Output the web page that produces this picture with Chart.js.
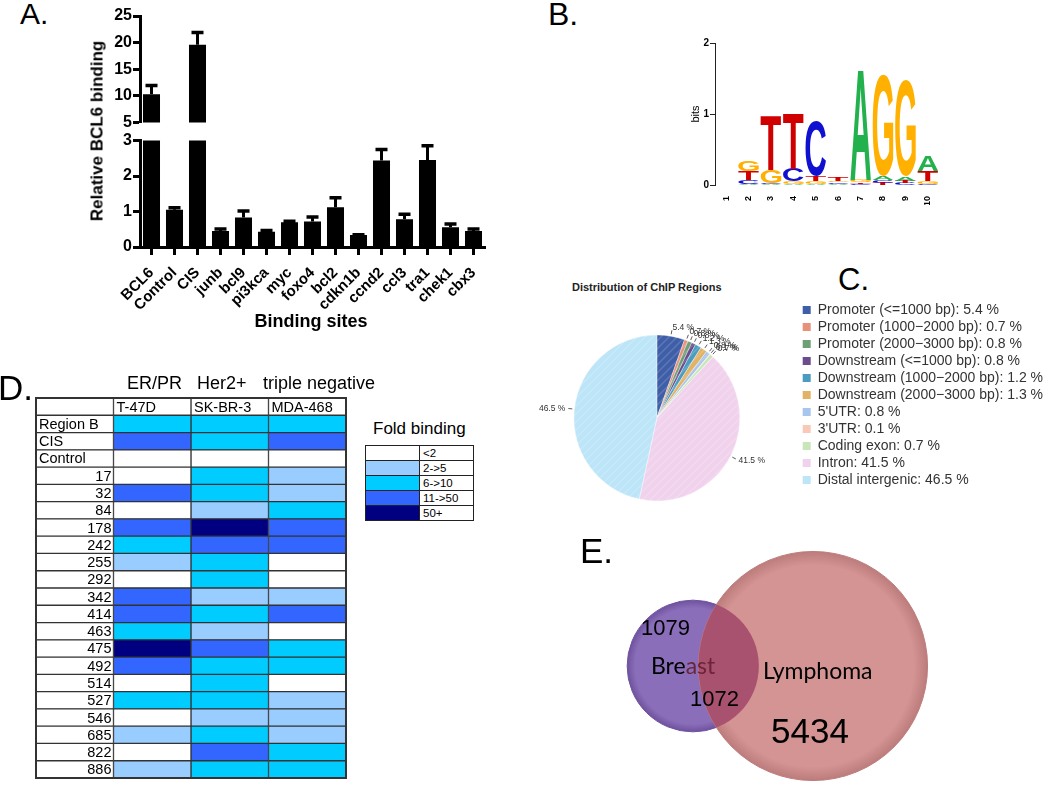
<!DOCTYPE html>
<html>
<head>
<meta charset="utf-8">
<title>BCL6 binding</title>
<script src="https://cdn.jsdelivr.net/npm/chart.js@4.4.1/dist/chart.umd.min.js"></script>
<style>
  body { margin: 0; width: 1050px; height: 793px; position: relative; overflow: hidden; background: #fff; font-family: "Liberation Sans", Arial, sans-serif; }
  canvas { position: absolute; }
  .lbl { position: absolute; line-height: 1; white-space: pre; color: #000; }
  #foldKey { position: absolute; left: 365px; top: 445px; border-collapse: collapse; font-size: 11.5px; }
  #foldKey td { border: 1px solid #222; height: 14px; padding: 0 0 0 3px; }
</style>
</head>
<body>
<canvas id="barsTop" width="440" height="133" style="left:60px;top:0"></canvas>
<canvas id="barsBottom" width="440" height="182" style="left:60px;top:130px"></canvas>
<canvas id="logo" width="275" height="175" style="left:685px;top:30px"></canvas>
<canvas id="pie" width="539" height="236" style="left:514px;top:300px"></canvas>
<canvas id="heat" width="330" height="392" style="left:30px;top:392px"></canvas>
<canvas id="venn" width="400" height="258" style="left:600px;top:537px"></canvas>

<div class="lbl" style="left:20px;top:-1px;font-size:30px">A.</div>
<div class="lbl" style="left:548px;top:-2px;font-size:32px">B.</div>
<div class="lbl" style="left:838px;top:264px;font-size:31px">C.</div>
<div class="lbl" style="left:-2px;top:370px;font-size:35px">D.</div>
<div class="lbl" style="left:580px;top:533px;font-size:35px">E.</div>

<div class="lbl" style="left:97px;top:131px;font-size:17px;font-weight:bold;transform:translate(-50%,-50%) rotate(-90deg)">Relative BCL6 binding</div>
<div class="lbl" style="left:311px;top:321px;font-size:18px;font-weight:bold;transform:translate(-50%,-50%)">Binding sites</div>

<div class="lbl" style="left:572px;top:282px;font-size:11px;font-weight:bold;color:#222">Distribution of ChIP Regions</div>

<div class="lbl" style="left:127px;top:374px;font-size:18px">ER/PR</div>
<div class="lbl" style="left:197px;top:374px;font-size:18px">Her2+</div>
<div class="lbl" style="left:263px;top:374px;font-size:18px">triple negative</div>
<div class="lbl" style="left:373px;top:420px;font-size:17px">Fold binding</div>
<table id="foldKey"></table>

<div class="lbl" style="left:641px;top:617px;font-size:22px">1079</div>
<div class="lbl" style="left:651px;top:654px;font-size:23px;font-family:Lato,'Open Sans',sans-serif">Bre<span style="color:#6b2438">ast</span></div>
<div class="lbl" style="left:763px;top:659px;font-size:23px;font-family:Lato,'Open Sans',sans-serif">Lymphoma</div>
<div class="lbl" style="left:690px;top:688px;font-size:22px">1072</div>
<div class="lbl" style="left:771px;top:713px;font-size:35px">5434</div>

<script>
// A. ChIP-qPCR
const sites = ['BCL6', 'Control', 'CIS', 'junb', 'bcl9', 'pi3kca', 'myc', 'foxo4', 'bcl2', 'cdkn1b', 'ccnd2', 'ccl3', 'tra1', 'chek1', 'cbx3'];
const binding = [10.3, 1.05, 19.6, 0.45, 0.83, 0.43, 0.7, 0.72, 1.12, 0.34, 2.44, 0.78, 2.45, 0.56, 0.45];
const bindingErr = [1.75, 0.07, 2.4, 0.07, 0.2, 0.05, 0.04, 0.14, 0.28, 0.02, 0.32, 0.16, 0.42, 0.1, 0.07];

// B. motif (bits per base)
const motifPos = ['1', '2', '3', '4', '5', '6', '7', '8', '9', '10'];
const bitsA = [0, 0.02, 0.01, 0.02, 0.02, 0.02, 1.55, 0.05, 0.06, 0.22];
const bitsC = [0, 0.05, 0.02, 0.18, 0.78, 0.02, 0.02, 0.04, 0.03, 0.02];
const bitsG = [0, 0.14, 0.18, 0.03, 0.03, 0.02, 0.03, 1.42, 1.36, 0.04];
const bitsT = [0, 0.13, 0.76, 0.78, 0.08, 0.06, 0.02, 0.03, 0.03, 0.14];

// C. genomic distribution
const regionNames = ['Promoter (<=1000 bp)', 'Promoter (1000\u22122000 bp)', 'Promoter (2000\u22123000 bp)', 'Downstream (<=1000 bp)', 'Downstream (1000\u22122000 bp)', 'Downstream (2000\u22123000 bp)', "5'UTR", "3'UTR", 'Coding exon', 'Intron', 'Distal intergenic'];
const regionPct = [5.4, 0.7, 0.8, 0.8, 1.2, 1.3, 0.8, 0.1, 0.7, 41.5, 46.5];
const regionColors = ['#3f5ea8', '#e8907a', '#6f9f74', '#6b4c8c', '#4a9cc0', '#e2b265', '#a7c6ee', '#f9c9b7', '#c9e6b9', '#f1d2ed', '#bde5f8'];

// D. fold binding levels (0 = <2 ... 4 = 50+)
const cellLines = ['T-47D', 'SK-BR-3', 'MDA-468'];
const regions = ['Region B', 'CIS', 'Control', '17', '32', '84', '178', '242', '255', '292', '342', '414', '463', '475', '492', '514', '527', '546', '685', '822', '886'];
const t47d = [2, 3, 0, 0, 3, 0, 3, 2, 1, 0, 3, 3, 2, 4, 3, 0, 2, 0, 1, 0, 1];
const skbr3 = [2, 2, 0, 2, 2, 1, 4, 3, 2, 2, 1, 2, 1, 3, 2, 2, 2, 1, 2, 3, 2];
const mda468 = [2, 3, 0, 1, 1, 2, 3, 3, 0, 0, 1, 3, 0, 2, 2, 0, 1, 1, 1, 2, 2];
const foldBins = ['<2', '2->5', '6->10', '11->50', '50+'];
const foldColors = ['#ffffff', '#99ccff', '#00ccff', '#3366ff', '#000080'];

// E. overlap of bound genes
const vennSets = ['Breast', 'Lymphoma'];
const vennOnly = [1079, 5434];
const vennShared = 1072;

Chart.defaults.font.family = '"Liberation Sans", Arial, sans-serif';
Chart.defaults.color = '#000';
Chart.defaults.animation = false;
Chart.defaults.responsive = false;
Chart.defaults.events = [];
Chart.defaults.plugins.legend.display = false;
Chart.defaults.plugins.tooltip.enabled = false;

const errorBars = {
  id: 'errorBars',
  afterDatasetsDraw(chart) {
    const { ctx, chartArea: a, scales: { y } } = chart;
    ctx.save();
    ctx.beginPath();
    ctx.rect(a.left, a.top, a.width, a.height);
    ctx.clip();
    ctx.strokeStyle = '#000';
    chart.getDatasetMeta(0).data.forEach((bar, i) => {
      const top = y.getPixelForValue(binding[i] + bindingErr[i]);
      ctx.lineWidth = 3;
      ctx.beginPath();
      ctx.moveTo(bar.x, bar.y);
      ctx.lineTo(bar.x, top);
      ctx.stroke();
      ctx.lineWidth = 3.5;
      ctx.beginPath();
      ctx.moveTo(bar.x - 6, top + 0.5);
      ctx.lineTo(bar.x + 6, top + 0.5);
      ctx.stroke();
    });
    ctx.restore();
  }
};

function bindingChart(id, min, max, step, showX, padding) {
  return new Chart(document.getElementById(id), {
    type: 'bar',
    data: {
      labels: sites,
      datasets: [{ data: binding, backgroundColor: '#000', barPercentage: 0.74, categoryPercentage: 1 }]
    },
    options: {
      layout: { padding },
      scales: {
        x: {
          display: showX,
          grid: { offset: false, drawOnChartArea: false, tickLength: 8, tickWidth: 3, color: '#000' },
          border: { width: 3, color: '#000' },
          ticks: { autoSkip: false, minRotation: 45, maxRotation: 45, padding: 9, font: { size: 15, weight: 'bold' } },
          afterFit: showX ? s => { s.height = 65; } : undefined
        },
        y: {
          min, max,
          ticks: { stepSize: step, padding: 1, font: { size: 16, weight: 'bold' } },
          grid: { drawOnChartArea: false, tickLength: 7, tickWidth: 3, color: '#000' },
          border: { width: 3, color: '#000' },
          afterFit: s => { s.width = 80; }
        }
      }
    },
    plugins: [errorBars]
  });
}

bindingChart('barsTop', 5, 25, 5, false, { top: 16, right: 15, bottom: 10, left: 0 });
bindingChart('barsBottom', 0, 3, 1, true, { top: 10, right: 15, bottom: 0, left: 0 });

// sequence logo: letters stacked by height, largest on top
const logoLetters = [['A', bitsA, '#22b14c'], ['C', bitsC, '#1010d0'], ['G', bitsG, '#ffb000'], ['T', bitsT, '#d00000']];

function drawLetter(ctx, ch, color, x0, y0, w, h) {
  if (h < 0.6) return;
  ctx.save();
  ctx.font = 'bold 100px "Liberation Sans", Arial, sans-serif';
  const m = ctx.measureText(ch);
  const gw = m.actualBoundingBoxLeft + m.actualBoundingBoxRight;
  const gh = m.actualBoundingBoxAscent + m.actualBoundingBoxDescent;
  ctx.translate(x0, y0);
  ctx.scale(w / gw, h / gh);
  ctx.fillStyle = color;
  ctx.textAlign = 'left';
  ctx.textBaseline = 'alphabetic';
  ctx.fillText(ch, m.actualBoundingBoxLeft, m.actualBoundingBoxAscent);
  ctx.restore();
}

const logoPlugin = {
  id: 'logoPlugin',
  afterDatasetsDraw(chart) {
    const { ctx, scales: { x, y } } = chart;
    const bars = chart.getDatasetMeta(0).data;
    motifPos.forEach((p, i) => {
      const w = bars[i].width;
      const cx = x.getPixelForValue(i);
      const stack = logoLetters.map(([ch, vals, col]) => [ch, vals[i], col]).sort((a, b) => a[1] - b[1]);
      let cum = 0;
      stack.forEach(([ch, v, col]) => {
        const yb = y.getPixelForValue(cum);
        const yt = y.getPixelForValue(cum + v);
        drawLetter(ctx, ch, col, cx - w / 2, yt, w, yb - yt);
        cum += v;
      });
    });
  }
};

new Chart(document.getElementById('logo'), {
  type: 'bar',
  data: {
    labels: motifPos,
    datasets: logoLetters.map(([ch, vals]) => ({ label: ch, data: vals, backgroundColor: 'rgba(0,0,0,0)', barPercentage: 0.92, categoryPercentage: 1 }))
  },
  options: {
    layout: { padding: { top: 13, right: 21, bottom: 0, left: 0 } },
    scales: {
      x: {
        stacked: true,
        grid: { display: false },
        border: { display: false },
        ticks: { minRotation: 90, maxRotation: 90, padding: 3, font: { size: 9, weight: 'bold' } },
        afterFit: s => { s.height = 20; }
      },
      y: {
        stacked: true, min: 0, max: 2,
        ticks: { stepSize: 1, padding: 1, font: { size: 10, weight: 'bold' } },
        grid: { drawOnChartArea: false, tickLength: 5, tickWidth: 1, color: '#222' },
        border: { width: 1, color: '#222' },
        title: { display: true, text: 'bits', font: { size: 11 }, padding: { top: 4, bottom: 0 } },
        afterFit: s => { s.width = 30; }
      }
    }
  },
  plugins: [logoPlugin]
});

// pie with faint hatching and outside percentage labels
function hatched(color) {
  const c = document.createElement('canvas');
  c.width = c.height = 8;
  const g = c.getContext('2d');
  g.fillStyle = color;
  g.fillRect(0, 0, 8, 8);
  g.strokeStyle = 'rgba(255,255,255,0.16)';
  g.lineWidth = 1.5;
  g.beginPath();
  g.moveTo(0, 8); g.lineTo(8, 0);
  g.moveTo(-2, 2); g.lineTo(2, -2);
  g.moveTo(6, 10); g.lineTo(10, 6);
  g.stroke();
  return g.createPattern(c, 'repeat');
}

const sliceLabels = {
  id: 'sliceLabels',
  afterDatasetsDraw(chart) {
    const { ctx } = chart;
    ctx.save();
    ctx.font = '8.5px "Liberation Sans", Arial, sans-serif';
    ctx.fillStyle = '#333';
    ctx.strokeStyle = '#333';
    ctx.lineWidth = 0.8;
    ctx.textBaseline = 'middle';
    chart.getDatasetMeta(0).data.forEach((arc, i) => {
      const mid = (arc.startAngle + arc.endAngle) / 2;
      const r = arc.outerRadius;
      const cx = Math.cos(mid), cy = Math.sin(mid);
      ctx.beginPath();
      ctx.moveTo(arc.x + cx * (r + 2), arc.y + cy * (r + 2));
      ctx.lineTo(arc.x + cx * (r + 6), arc.y + cy * (r + 6));
      ctx.stroke();
      ctx.textAlign = cx < 0 ? 'right' : 'left';
      ctx.fillText(regionPct[i] + ' %', arc.x + cx * (r + 9), arc.y + cy * (r + 9));
    });
    ctx.restore();
  }
};

new Chart(document.getElementById('pie'), {
  type: 'pie',
  data: {
    labels: regionNames.map((n, i) => n + ': ' + regionPct[i] + ' %'),
    datasets: [{ data: regionPct, backgroundColor: regionColors.map(hatched), borderColor: 'rgba(255,255,255,0.6)', borderWidth: 0.6 }]
  },
  options: {
    radius: 83,
    plugins: {
      legend: {
        display: true, position: 'right', align: 'start',
        labels: {
          boxWidth: 8, boxHeight: 8, padding: 3, color: '#333', font: { size: 14 },
          generateLabels: chart => Chart.overrides.pie.plugins.legend.labels.generateLabels(chart)
            .map((item, i) => Object.assign(item, { fillStyle: regionColors[i], strokeStyle: regionColors[i], lineWidth: 0 }))
        }
      }
    }
  },
  plugins: [sliceLabels]
});

// heat table drawn as floating horizontal bars
const tableText = {
  id: 'tableText',
  afterDatasetsDraw(chart) {
    const { ctx, chartArea: a } = chart;
    ctx.save();
    ctx.font = '14.5px "Liberation Sans", Arial, sans-serif';
    ctx.fillStyle = '#000';
    ctx.textBaseline = 'middle';
    chart.getDatasetMeta(0).data.forEach((cell, i) => {
      if (i === 0) return;
      const name = chart.data.labels[i];
      const left = Math.min(cell.x, cell.base), right = Math.max(cell.x, cell.base);
      if (isNaN(+name)) {
        ctx.textAlign = 'left';
        ctx.fillText(name, left + 3, cell.y + 1);
      } else {
        ctx.textAlign = 'right';
        ctx.fillText(name, right - 2, cell.y + 1);
      }
    });
    cellLines.forEach((name, c) => {
      const cell = chart.getDatasetMeta(c + 1).data[0];
      ctx.textAlign = 'left';
      ctx.fillText(name, Math.min(cell.x, cell.base) + 3, cell.y + 1);
    });
    ctx.strokeStyle = '#333';
    ctx.lineWidth = 2;
    ctx.strokeRect(a.left, a.top, a.width, a.height);
    ctx.restore();
  }
};

const heatLevels = [t47d, skbr3, mda468];
const heatRows = [''].concat(regions);
const cellStyle = { borderColor: '#333', borderWidth: 1, borderSkipped: false, grouped: false, barPercentage: 1, categoryPercentage: 1 };

new Chart(document.getElementById('heat'), {
  type: 'bar',
  data: {
    labels: heatRows,
    datasets: [Object.assign({ data: heatRows.map(() => [0, 1]), backgroundColor: '#fff' }, cellStyle)].concat(
      heatLevels.map((lv, c) => Object.assign({
        label: cellLines[c],
        data: heatRows.map(() => [c + 1, c + 2]),
        backgroundColor: ['#fff'].concat(lv.map(l => foldColors[l]))
      }, cellStyle)))
  },
  options: {
    indexAxis: 'y',
    layout: { padding: { top: 6, right: 14, bottom: 6, left: 6 } },
    scales: {
      x: { display: false, min: 0, max: 4 },
      y: { display: false }
    }
  },
  plugins: [tableText]
});

const key = document.getElementById('foldKey');
foldBins.forEach((b, i) => {
  const tr = key.insertRow();
  const sw = tr.insertCell();
  sw.style.cssText = 'width:50px;background:' + foldColors[i];
  const tx = tr.insertCell();
  tx.style.width = '50px';
  tx.textContent = b;
});

// venn as two bubbles, radius ~ sqrt(set size)
const vennTotal = vennOnly.map(n => n + vennShared);
const vennColors = ['#8b6eb9', '#d49494'];
const vennRims = ['#6f529e', '#bd7c7c'];

function vennFill(context) {
  const { chart, datasetIndex, raw } = context;
  const x = chart.scales.x, y = chart.scales.y;
  if (!raw || !x || !y) return vennColors[datasetIndex];
  const px = x.getPixelForValue(raw.x), py = y.getPixelForValue(raw.y);
  if (!isFinite(px) || !isFinite(py) || !isFinite(raw.r)) return vennColors[datasetIndex];
  const g = chart.ctx.createRadialGradient(px, py, 0, px, py, raw.r);
  g.addColorStop(0, vennColors[datasetIndex]);
  g.addColorStop(0.88, vennColors[datasetIndex]);
  g.addColorStop(1, vennRims[datasetIndex]);
  return g;
}

const vennOverlap = {
  id: 'vennOverlap',
  afterDatasetsDraw(chart) {
    const { ctx } = chart;
    const b = chart.getDatasetMeta(0).data[0];
    const l = chart.getDatasetMeta(1).data[0];
    ctx.save();
    ctx.beginPath();
    ctx.arc(b.x, b.y, b.options.radius, 0, Math.PI * 2);
    ctx.clip();
    ctx.beginPath();
    ctx.arc(l.x, l.y, l.options.radius, 0, Math.PI * 2);
    ctx.fillStyle = '#a85270';
    ctx.fill();
    ctx.restore();
  }
};

new Chart(document.getElementById('venn'), {
  type: 'bubble',
  data: {
    datasets: vennSets.map((s, i) => ({
      label: s,
      data: [{ x: i, y: 0, r: 1.42 * Math.sqrt(vennTotal[i]) }],
      backgroundColor: vennFill,
      borderColor: vennRims[i],
      borderWidth: 1,
      order: 1 - i,
      clip: false
    }))
  },
  options: {
    layout: { autoPadding: false, padding: 0 },
    scales: {
      x: { display: false, min: -0.775, max: 2.558 },
      y: { display: false, min: -1, max: 1 }
    }
  },
  plugins: [vennOverlap]
});
</script>
</body>
</html>
